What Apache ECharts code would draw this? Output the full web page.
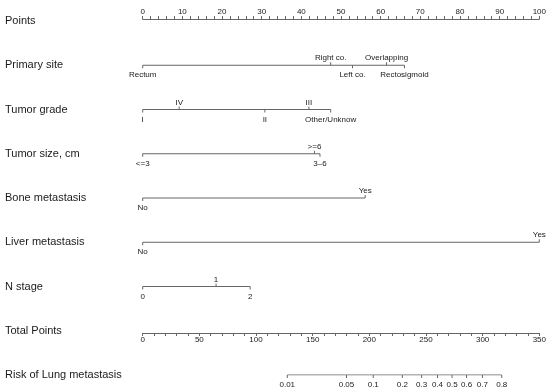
<!DOCTYPE html>
<html><head><meta charset="utf-8">
<script src="https://cdn.jsdelivr.net/npm/echarts@6/dist/echarts.min.js"></script>
<style>html,body{margin:0;padding:0;background:#fff}#c{width:550px;height:392px}</style>
</head><body><div id="c"></div>
<script>
const rowNames = ['Points','Primary site','Tumor grade','Tumor size, cm','Bone metastasis','Liver metastasis','N stage','Total Points','Risk of Lung metastasis'];

const primarySiteLevels = ['Rectum','Right co.','Left co.','Overlapping','Rectosigmoid'];
const primarySitePoints = [0, 47.4, 52.9, 61.5, 66];
const primarySiteSides  = ['b','t','b','t','b'];

const tumorGradeLevels = ['I','IV','II','III','Other/Unknow'];
const tumorGradePoints = [0, 9.2, 30.8, 41.9, 47.4];
const tumorGradeSides  = ['b','t','b','t','b'];

const tumorSizeLevels = ['<=3','>=6','3–6'];
const tumorSizePoints = [0, 43.3, 44.7];
const tumorSizeSides  = ['b','t','b'];

const boneLevels = ['No','Yes'];
const bonePoints = [0, 56.1];
const boneSides  = ['b','t'];

const liverLevels = ['No','Yes'];
const liverPoints = [0, 100];
const liverSides  = ['b','t'];

const nStageLevels = ['0','1','2'];
const nStagePoints = [0, 18.5, 27.1];
const nStageSides  = ['b','t','b'];

const riskTicks  = [0.01, 0.05, 0.1, 0.2, 0.3, 0.4, 0.5, 0.6, 0.7, 0.8];
const riskLabels = ['0.01','0.05','0.1','0.2','0.3','0.4','0.5','0.6','0.7','0.8'];
const riskIntercept = 273.0;   // total points at logit = 0
const riskSlope = 0.0316;      // logit per total point

const LC = '#666666';
const TC = '#1a1a1a';
const FF = '"Liberation Sans", Arial, sans-serif';

function riskToTotal(p){ return riskIntercept + Math.log(p/(1-p))/riskSlope; }

function makeRow(row, levels, pts, sides, xAxisIndex){
  const data = pts.map((v,i)=>[v, row, sides[i]==='t'?1:-1]);
  return [
    {type:'line', xAxisIndex, yAxisIndex:0, data:[[Math.min(...pts),row],[Math.max(...pts),row]],
     symbol:'none', lineStyle:{color:LC,width:1}, silent:true, animation:false, z:2},
    {type:'custom', xAxisIndex, yAxisIndex:0, data, silent:true, animation:false, z:3,
     renderItem:(params,api)=>{
       const p = api.coord([api.value(0), api.value(1)]);
       const up = api.value(2) > 0;
       return {type:'group', children:[
         {type:'line', shape:{x1:p[0],y1:p[1],x2:p[0],y2:p[1]+(up?-3:3)}, style:{stroke:LC,lineWidth:1}},
         {type:'text', style:{x:p[0], y:p[1]+(up?-7:10), text:levels[params.dataIndex], align:'center', verticalAlign:'middle',
           fill:TC, fontSize:8, fontFamily:FF}}
       ]};
     }}
  ];
}

const series = [].concat(
  makeRow(1, primarySiteLevels, primarySitePoints, primarySiteSides, 0),
  makeRow(2, tumorGradeLevels, tumorGradePoints, tumorGradeSides, 0),
  makeRow(3, tumorSizeLevels, tumorSizePoints, tumorSizeSides, 0),
  makeRow(4, boneLevels, bonePoints, boneSides, 0),
  makeRow(5, liverLevels, liverPoints, liverSides, 0),
  makeRow(6, nStageLevels, nStagePoints, nStageSides, 0),
  makeRow(8, riskLabels, riskTicks.map(riskToTotal), riskTicks.map(()=> 'b'), 1)
);

const chart = echarts.init(document.getElementById('c'), null, {renderer:'canvas'});
chart.setOption({
  animation:false,
  backgroundColor:'#fff',
  textStyle:{fontFamily:FF},
  grid:{left:142.7, right:10.7, top:21, bottom:17, containLabel:false, outerBoundsMode:'none'},
  xAxis:[
    {type:'value', position:'top', offset:2, min:0, max:100, interval:10,
     axisLine:{show:true, onZero:false, lineStyle:{color:LC,width:1}},
     axisTick:{show:true, length:3, lineStyle:{color:LC}},
     minorTick:{show:true, splitNumber:5, length:3, lineStyle:{color:LC}},
     axisLabel:{fontSize:8, color:TC, margin:3, fontFamily:FF},
     splitLine:{show:false}, minorSplitLine:{show:false}},
    {type:'value', position:'bottom', offset:-42, min:0, max:350, interval:50,
     axisLine:{show:true, onZero:false, lineStyle:{color:LC,width:1}},
     axisTick:{show:true, length:3, lineStyle:{color:LC}},
     minorTick:{show:true, splitNumber:5, length:3, lineStyle:{color:LC}},
     axisLabel:{fontSize:8, color:TC, margin:3, fontFamily:FF},
     splitLine:{show:false}, minorSplitLine:{show:false}}
  ],
  yAxis:[{type:'category', inverse:true, boundaryGap:false, data:rowNames,
     axisLine:{show:false}, axisTick:{show:false}, splitLine:{show:false},
     axisLabel:{interval:0, align:'left', margin:137.7, fontSize:11, color:TC, fontFamily:FF, padding:[2,0,0,0]}}],
  series
});
</script></body></html>
